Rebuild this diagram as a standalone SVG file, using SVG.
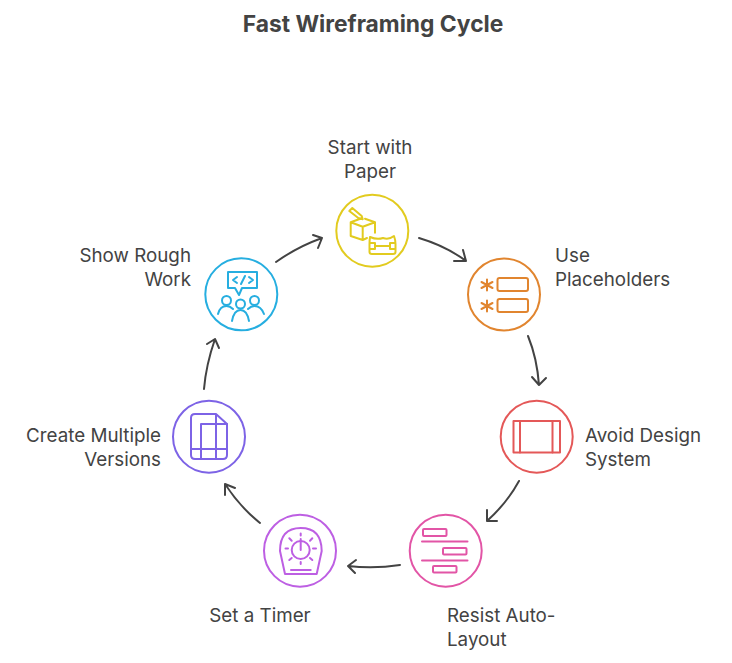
<svg xmlns="http://www.w3.org/2000/svg" width="732" height="663" viewBox="0 0 732 663">
<style>
text{font-family:Inter,"Liberation Sans",sans-serif;font-size:18.8px;fill:#434343}
.t{font-size:22.8px;font-weight:700;text-anchor:middle}
.m{text-anchor:middle}.e{text-anchor:end}
.c{fill:none;stroke:#434343;stroke-width:2;stroke-linecap:round;stroke-linejoin:round}
.n{fill:none;stroke-width:2;stroke-linecap:round;stroke-linejoin:round}
#n1 .n{stroke:#e2cb1f}#n2 .n{stroke:#e1852f}#n3 .n{stroke:#e45858}#n4 .n{stroke:#e255a6}#n5 .n{stroke:#bd5fe3}#n6 .n{stroke:#7d63e6}#n7 .n{stroke:#26aee0}
</style>
<rect width="732" height="663" fill="#fff"/>
<text class="t" x="373" y="32">Fast Wireframing Cycle</text>
<g id="connectors">
<path class="c" d="M419 238Q446 246 466 261M454 261L466 261L463 250"/>
<path class="c" d="M528 336Q537 358 539 385M532 377L539 385L546 378"/>
<path class="c" d="M519 481Q507 503 487 521M487 510L487 521L497 521"/>
<path class="c" d="M400 565Q374 569 348 566M356 560L348 566L355 573"/>
<path class="c" d="M260 523Q240 507 225 484M225 495L225 484L235 488"/>
<path class="c" d="M204 389Q206 365 215 339M207 344L215 339L219 348"/>
<path class="c" d="M276 262Q297 247 322 238M313 235L322 238L318 248"/>
</g>
<g id="n1">
<circle class="n" cx="372.3" cy="230.7" r="36"/>
<path class="n" d="M349.300 211L352.300 208L361.700 216L362.700 219.300L358.300 218ZM350.700 222.300V236L362.700 240V226.700L350.700 222.300M350.700 222.300L361 218.500M362.700 226.700L375 222.300M365 218.700L375 222.300V232.700M362.700 240L367 238"/>
<path class="n" d="M370 237Q377 240 383 238Q389 240 394 236Q395.500 240 395.500 244V252Q395.500 254 393 254H372Q369.500 254 369.500 252V244Q369.500 240 370 237ZM369.500 243H375V249H369.500M395.500 243H390V249H395.500M375 246H390"/>
</g>
<g id="n2">
<circle class="n" cx="504" cy="294.5" r="36"/>
<rect class="n" x="497.5" y="278" width="30.500" height="13" rx="2"/>
<rect class="n" x="497.500" y="299" width="30.500" height="13" rx="2"/>
<path class="n" d="M487 279.500V290.500M481.500 282L492.500 288M492.500 282L481.500 288M487 300.500V311.500M481.500 303L492.500 309M492.500 303L481.500 309"/>
</g>
<g id="n3">
<circle class="n" cx="536.700" cy="436.700" r="36"/>
<rect class="n" x="513.500" y="421" width="46.500" height="31.500"/>
<path class="n" d="M520 421V452.500M552.500 421V452.500"/>
</g>
<g id="n4">
<circle class="n" cx="445.700" cy="550.700" r="36"/>
<rect class="n" x="423" y="529" width="23.500" height="7" rx="1"/>
<rect class="n" x="443" y="548" width="23.500" height="6.500" rx="1"/>
<rect class="n" x="433" y="566" width="23.500" height="6.500" rx="1"/>
<path class="n" d="M422 541.500H467.500M422 560.500H467.500"/>
</g>
<g id="n5">
<circle class="n" cx="300" cy="550.700" r="36"/>
<path class="n" d="M285 574L280 551Q280 528 300.700 528Q321.500 528 321.700 551L316.700 574Z"/>
<circle class="n" cx="300.700" cy="550" r="9"/>
<path class="n" d="M300.700 539V550M300.700 533.500V535.500M300.700 562V564M285.500 548.500H288M313 548.500H316M289.300 538.300L291.700 540.700M310 540.700L312.300 538.300M289.300 560L291.700 558M310 558L312.300 560M291 570H310.700"/>
</g>
<g id="n6">
<circle class="n" cx="209" cy="436.700" r="36"/>
<path class="n" d="M216 414H195Q191 414 191 418V455Q191 459 195 459H223Q227 459 227 455V424ZM216 414V424H227"/>
<path class="n" d="M227 424H201V459M191 449H227M216 424V459"/>
</g>
<g id="n7">
<circle class="n" cx="241.300" cy="294.300" r="36"/>
<path class="n" d="M228 272H257V288H242L239 295L235 288H228Z"/>
<path class="n" d="M237 277L233 280L237 283M249 277L253 280L249 283M245 276L241 284"/>
<circle class="n" cx="226.500" cy="300.500" r="4.500"/>
<circle class="n" cx="240.500" cy="304" r="4.500"/>
<circle class="n" cx="254.500" cy="300.500" r="4.500"/>
<path class="n" d="M218 314Q220 306 226.500 306Q230 306 233 309M232 321Q234 310 240.500 310Q247 310 249 321M248 309Q251 306 254.500 306Q261 306 264 314"/>
</g>
<text class="m" x="370" y="154">Start with</text>
<text class="m" x="370" y="178">Paper</text>
<text x="555" y="262">Use</text>
<text x="555" y="286">Placeholders</text>
<text x="585" y="442">Avoid Design</text>
<text x="585" y="466">System</text>
<text x="447" y="622">Resist Auto-</text>
<text x="447" y="646">Layout</text>
<text class="m" x="260" y="622">Set a Timer</text>
<text class="e" x="161" y="442">Create Multiple</text>
<text class="e" x="161" y="466">Versions</text>
<text class="e" x="191" y="262">Show Rough</text>
<text class="e" x="191" y="286">Work</text>
</svg>
